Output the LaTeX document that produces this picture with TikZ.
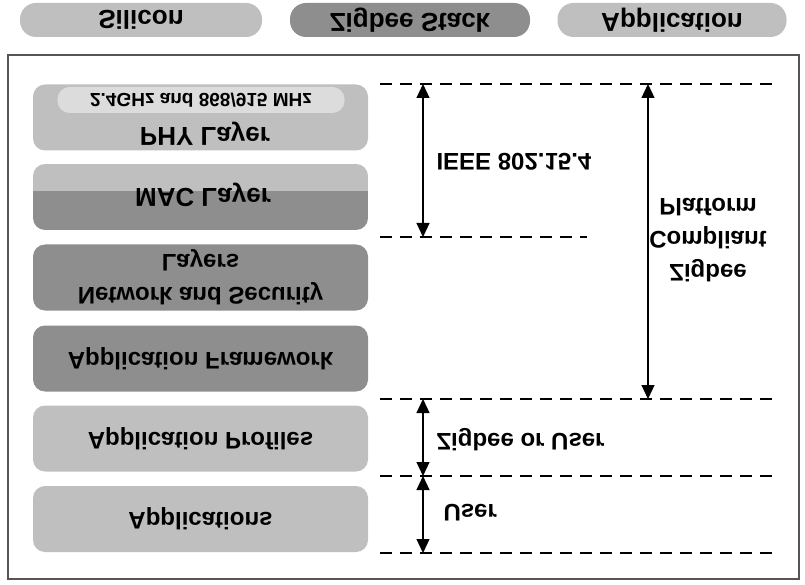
\documentclass[tikz,border=0pt]{standalone}
\usepackage{fontspec}
\setmainfont{Liberation Sans}
\usetikzlibrary{arrows.meta}
\definecolor{lg}{HTML}{BFBFBF}
\definecolor{dg}{HTML}{8E8E8E}
\definecolor{vlg}{HTML}{DCDCDC}
\definecolor{framec}{HTML}{555555}
\begin{document}
\begin{tikzpicture}[x=1pt,y=1pt,yscale=-1,
  every node/.style={transform shape},
  lbl/.style={font=\fontsize{24}{33}\selectfont\bfseries, text=black},
  layerbox/.style={lbl, rounded corners=12pt, minimum width=335pt, minimum height=66pt, inner sep=0pt, align=center},
  toppill/.style={lbl, font=\fontsize{26}{30}\selectfont\bfseries, rounded corners=16pt, minimum height=34pt, inner sep=0pt},
  dline/.style={line width=1.5pt, dash pattern=on 12pt off 8pt},
  dimarrow/.style={line width=1.2pt, {Triangle[width=13pt,length=14pt]}-{Triangle[width=13pt,length=14pt]}}]
\useasboundingbox (0,0) rectangle (805,585);
% top legend pills
\node[toppill, fill=lg, minimum width=242pt] (silicon) at (141,20) {Silicon};
\node[toppill, fill=dg, minimum width=240pt] (stack) at (410,20) {Zigbee Stack};
\node[toppill, fill=lg, minimum width=229pt] (appl) at (672,20) {Application};
% frame
\draw[framec, line width=1.4pt] (8,55) rectangle (799,579);
% layer boxes
\node[layerbox, fill=lg] (phy) at (200.5,117.5) {};
\node[lbl, font=\fontsize{26}{30}\selectfont\bfseries] (phylbl) at (205,134) {PHY Layer};
\node[lbl, fill=vlg, rounded corners=12pt, minimum width=287pt, minimum height=26pt, inner sep=0pt, font=\fontsize{19}{22}\selectfont\bfseries] (freq) at (201,100) {2.4GHz and 868/915 MHz};
\begin{scope}
  \clip[rounded corners=12pt] (33,164) rectangle (368,230);
  \fill[lg] (33,164) rectangle (368,191);
  \fill[dg] (33,191) rectangle (368,230);
\end{scope}
\node[lbl, font=\fontsize{26}{30}\selectfont\bfseries] (mac) at (203,195) {MAC Layer};
\node[layerbox, fill=dg] (net) at (200.5,277.5) {Network and Security\\Layers};
\node[layerbox, fill=dg] (fw) at (200.5,358.5) {Application Framework};
\node[layerbox, fill=lg] (prof) at (200.5,438.5) {Application Profiles};
\node[layerbox, fill=lg] (apps) at (200.5,519) {Applications};
% dashed boundary lines
\coordinate (d1l) at (380,84);  \coordinate (d1r) at (775,84);
\coordinate (d2l) at (380,237); \coordinate (d2r) at (587,237);
\coordinate (d3l) at (380,399); \coordinate (d3r) at (775,399);
\coordinate (d4l) at (380,476); \coordinate (d4r) at (775,476);
\coordinate (d5l) at (380,553); \coordinate (d5r) at (775,553);
\draw[dline] (d1l) -- (d1r);
\draw[dline] (d2l) -- (d2r);
\draw[dline] (d3l) -- (d3r);
\draw[dline] (d4l) -- (d4r);
\draw[dline] (d5l) -- (d5r);
% dimension arrows
\coordinate (ieeeT) at (423,84);  \coordinate (ieeeB) at (423,237);
\coordinate (platT) at (648,84);  \coordinate (platB) at (648,399);
\coordinate (zuT) at (423,399);   \coordinate (zuB) at (423,476);
\coordinate (uT) at (423,476);    \coordinate (uB) at (423,553);
\draw[dimarrow] (ieeeT) -- (ieeeB);
\draw[dimarrow] (platT) -- (platB);
\draw[dimarrow] (zuT) -- (zuB);
\draw[dimarrow] (uT) -- (uB);
% labels
\node[lbl, anchor=west] (ieee) at (433,162) {IEEE 802.15.4};
\node[lbl, align=center] (plat) at (708,240) {Zigbee\\Compliant\\Platform};
\node[lbl, anchor=west] (zu) at (433,440) {Zigbee or User};
\node[lbl, anchor=west] (user) at (440,513) {User};
\end{tikzpicture}
\end{document}
